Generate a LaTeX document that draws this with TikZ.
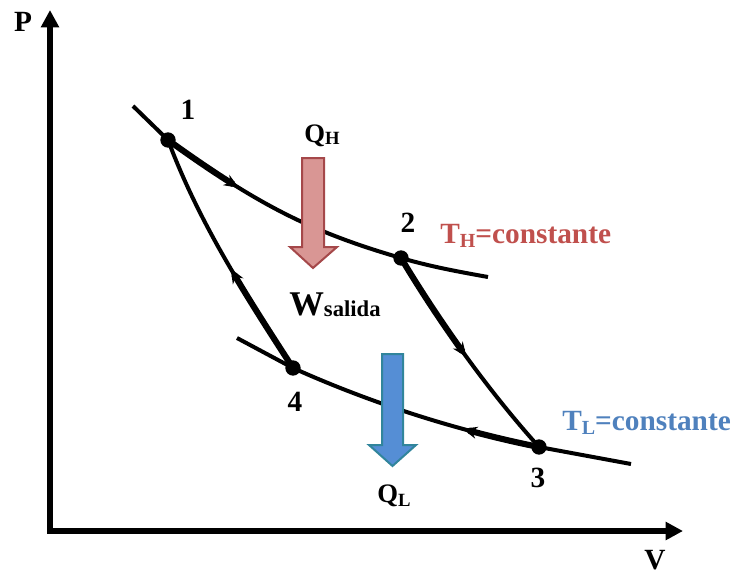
\documentclass[tikz,border=0pt]{standalone}
\usepackage{fontspec}
\setmainfont{Liberation Serif}
\usetikzlibrary{arrows.meta,decorations.markings}
\definecolor{hotred}{HTML}{C0504D}
\definecolor{coldblue}{HTML}{4F81BD}
\definecolor{qhfill}{HTML}{D99694}
\definecolor{qhdraw}{HTML}{A5484A}
\definecolor{qlfill}{HTML}{558ED5}
\definecolor{qldraw}{HTML}{31859C}
\begin{document}
\begin{tikzpicture}[x=0.75pt,y=-0.75pt,
  curve/.style={line width=3pt,black},
  heavy/.style={line width=4.6pt,black,dash pattern=on #1 off 3000pt},
  flowarrow/.style={postaction={decorate},decoration={markings,mark=at position #1 with {\arrow{Stealth[length=11pt,width=9pt]}}}},
  dot/.style={circle,fill=black,inner sep=0pt,minimum size=11.5pt},
  lab/.style={font=\fontsize{22}{24}\selectfont\bfseries,inner sep=0pt},
  axis/.style={line width=4.2pt,line join=miter,{Triangle[width=13pt,length=13pt]}-{Triangle[width=13pt,length=13pt]}},
  blockarrow/.style={line width=1.5pt,line join=miter}]
\useasboundingbox (0,0) rectangle (738,575);

% key coordinates
\coordinate (p1) at (168,140);
\coordinate (p2) at (401,258);
\coordinate (p3) at (539,447);
\coordinate (p4) at (293,368);
\coordinate (h0) at (133,106);
\coordinate (h1) at (488,277);
\coordinate (l0) at (237,338);
\coordinate (l1) at (631,464);
\coordinate (o) at (50,531);
\coordinate (ptop) at (50,10);
\coordinate (vend) at (683,531);

% axes
\draw[axis] (ptop) -- (o) -- (vend);
\node[lab] (P) at (23,22) {P};
\node[lab] (V) at (655,560) {V};

% isotherm T_H
\draw[curve] (h0) -- (p1);
\draw[curve,flowarrow=64pt] (p1) .. controls (258,204.8) and (311,231.9) .. (p2);
\draw[heavy=59pt] (p1) .. controls (258,204.8) and (311,231.9) .. (p2);
\draw[curve] (p2) .. controls (431,266.7) and (458,271.6) .. (h1);

% adiabat 2 -> 3
\draw[curve,flowarrow=89pt] (p2) .. controls (437,318) and (485,387) .. (p3);
\draw[heavy=84pt] (p2) .. controls (437,318) and (485,387) .. (p3);

% isotherm T_L
\draw[curve,flowarrow=59pt] (p3) .. controls (459,431) and (373,404) .. (p4);
\draw[heavy=54pt] (p3) .. controls (459,431) and (373,404) .. (p4);
\draw[curve] (p3) -- (l1);
\draw[curve] (l0) -- (p4);

% adiabat 4 -> 1
\draw[curve,flowarrow=88pt] (p4) .. controls (241,288) and (198,220) .. (p1);
\draw[heavy=83pt] (p4) .. controls (241,288) and (198,220) .. (p1);

% heat arrows
\draw[blockarrow,draw=qhdraw,fill=qhfill] (302,158) -- (324,158) -- (324,247) -- (337,247) -- (313,268) -- (290,247) -- (302,247) -- cycle;
\draw[blockarrow,draw=qldraw,fill=qlfill] (382,354) -- (403,354) -- (403,445) -- (416,445) -- (392.5,466) -- (369,445) -- (382,445) -- cycle;

% state points
\node[dot] (d1) at (p1) {};
\node[dot] (d2) at (p2) {};
\node[dot] (d3) at (p3) {};
\node[dot] (d4) at (p4) {};

% labels
\node[lab] (n1) at (188,110) {1};
\node[lab] (n2) at (408,223) {2};
\node[lab] (n3) at (538,478) {3};
\node[lab] (n4) at (295,402) {4};

\node[lab,anchor=base west] (QH) at (304,142) {{\fontsize{20}{22}\selectfont Q}{\fontsize{14}{16}\selectfont\raisebox{-1.5pt}{H}}};
\node[lab,anchor=base west] (QL) at (377,502) {{\fontsize{20}{22}\selectfont Q}{\fontsize{14}{16}\selectfont\raisebox{-3pt}{L}}};
\node[lab,anchor=base west] (W) at (289,315) {{\fontsize{26}{28}\selectfont W}{\fontsize{17}{18}\selectfont\raisebox{-1pt}{salida}}};

\node[lab,anchor=base west,text=hotred] (TH) at (440,243) {T{\fontsize{15}{16}\selectfont\raisebox{-3pt}{H}}=constante};
\node[lab,anchor=base west,text=coldblue] (TL) at (562,430) {T{\fontsize{15}{16}\selectfont\raisebox{-3pt}{L}}=constante};
\end{tikzpicture}
\end{document}
